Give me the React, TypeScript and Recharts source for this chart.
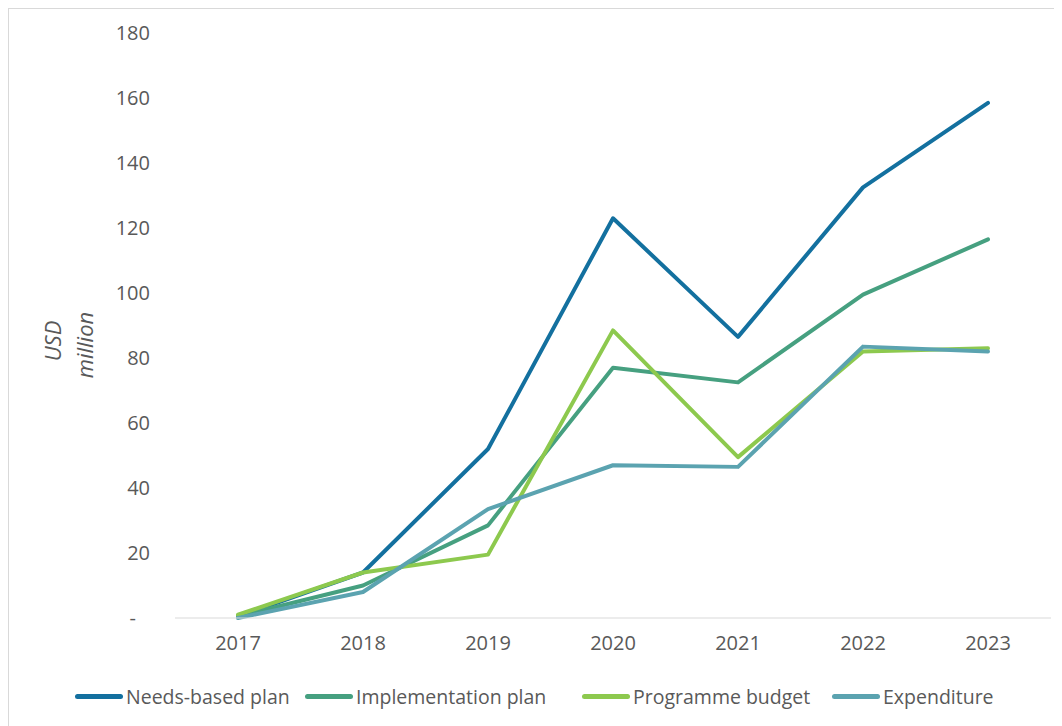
import React from "react";
import { LineChart, Line, XAxis, YAxis } from "recharts";

const years = ["2017", "2018", "2019", "2020", "2021", "2022", "2023"];
const needsBased = [0.5, 14, 52, 123, 86.5, 132.5, 158.5];
const implementation = [0.5, 10, 28.5, 77, 72.5, 99.5, 116.5];
const programmeBudget = [1, 14, 19.5, 88.5, 49.5, 82, 83];
const expenditure = [0, 8, 33.5, 47, 46.5, 83.5, 82];
const yTicks = [0, 20, 40, 60, 80, 100, 120, 140, 160, 180];

const series = [
  { key: "needs", name: "Needs-based plan", color: "#13709f" },
  { key: "impl", name: "Implementation plan", color: "#46a080" },
  { key: "budget", name: "Programme budget", color: "#8dc94e" },
  { key: "exp", name: "Expenditure", color: "#5ba3b0" },
];

// left edge of each legend entry, in the wrapper's coordinates
const legendLeft = [66, 296, 573, 823];

const data = years.map((year, i) => ({
  year,
  needs: needsBased[i],
  impl: implementation[i],
  budget: programmeBudget[i],
  exp: expenditure[i],
}));

const FONT = "'Open Sans', sans-serif";
const TEXT = "#595959";

function YTick(props: any) {
  const { x, y, payload } = props;
  const zero = payload.value === 0;
  return (
    <text
      x={zero ? x - 14 : x}
      y={y}
      dy="0.355em"
      textAnchor="end"
      fill={TEXT}
      fontSize={20}
      fontFamily={FONT}
    >
      {zero ? "-" : payload.value}
    </text>
  );
}

function YLabel() {
  return (
    <g fill={TEXT} fontSize={22} fontFamily={FONT} fontStyle="italic">
      <text x={44} y={332} transform="rotate(-90 44 332)" textAnchor="middle" dy="0.355em">
        USD
      </text>
      <text x={76} y={336} transform="rotate(-90 76 336)" textAnchor="middle" dy="0.355em">
        million
      </text>
    </g>
  );
}

export default function App() {
  return (
    <div
      style={{
        position: "relative",
        width: 1053,
        height: 717,
        borderTop: "1px solid #d9d9d9",
        borderLeft: "1px solid #d9d9d9",
        background: "#fff",
      }}
    >
      <LineChart
        width={1053}
        height={717}
        data={data}
        margin={{ top: 24, right: 11, left: 0, bottom: 78 }}
      >
        <XAxis
          dataKey="year"
          padding={{ left: 63, right: 63 }}
          axisLine={{ stroke: "#d9d9d9", strokeWidth: 1 }}
          tickLine={false}
          tickSize={6}
          tickMargin={12}
          height={30}
          tick={{ fill: TEXT, fontSize: 20, fontFamily: FONT }}
        />
        <YAxis
          width={166}
          domain={[0, 180]}
          ticks={yTicks}
          axisLine={false}
          tickLine={false}
          tickSize={6}
          tickMargin={19}
          tick={<YTick />}
          label={{ content: () => <YLabel /> }}
        />
        {series.map((s) => (
          <Line
            key={s.key}
            dataKey={s.key}
            name={s.name}
            stroke={s.color}
            strokeWidth={4}
            strokeLinecap="round"
            strokeLinejoin="round"
            dot={false}
            activeDot={false}
            isAnimationActive={false}
          />
        ))}
      </LineChart>
      {series.map((s, i) => (
        <div
          key={s.key}
          style={{
            position: "absolute",
            top: 674,
            left: legendLeft[i],
            display: "flex",
            alignItems: "center",
            fontFamily: FONT,
            fontSize: 19.5,
            color: TEXT,
            whiteSpace: "nowrap",
          }}
        >
          <span
            style={{
              display: "inline-block",
              width: 48,
              height: 5,
              borderRadius: 3,
              background: s.color,
              marginRight: 3,
            }}
          />
          <span>{s.name}</span>
        </div>
      ))}
    </div>
  );
}
